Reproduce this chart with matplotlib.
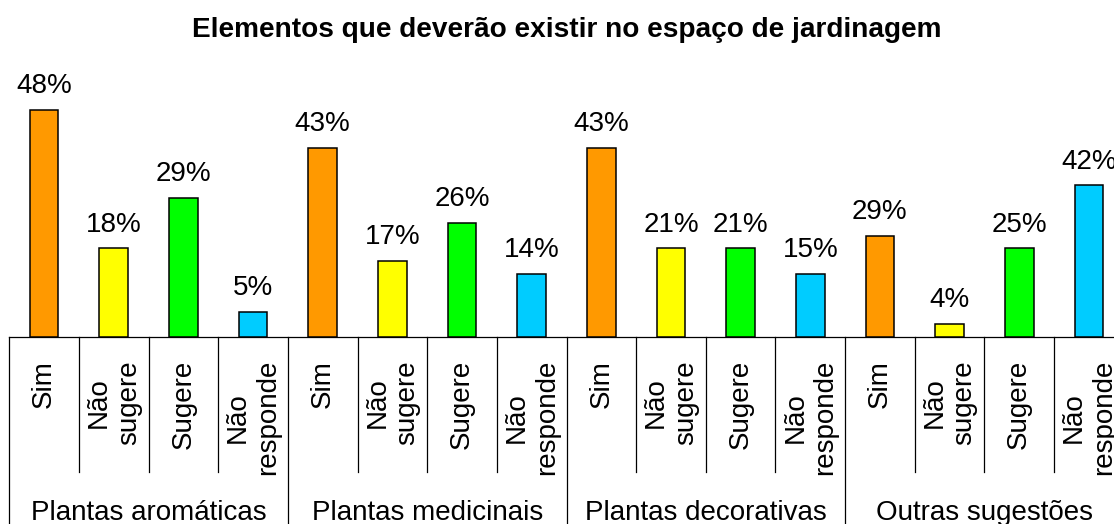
import numpy as np
import matplotlib
matplotlib.use("Agg")
import matplotlib.pyplot as plt

plt.rcParams["font.family"] = ["Liberation Sans", "DejaVu Sans"]

# data: bar heights are respondent counts, labels are shares within each group
groups = ["Plantas aromáticas", "Plantas medicinais", "Plantas decorativas", "Outras sugestões"]
answers = ["Sim", "Não\nsugere", "Sugere", "Não\nresponde"]
counts_aromaticas = [18, 7, 11, 2]
counts_medicinais = [15, 6, 9, 5]
counts_decorativas = [15, 7, 7, 5]
counts_outras = [8, 1, 7, 12]
pct_aromaticas = [48, 18, 29, 5]
pct_medicinais = [43, 17, 26, 14]
pct_decorativas = [43, 21, 21, 15]
pct_outras = [29, 4, 25, 42]
answer_colors = ["#FF9900", "#FFFF00", "#00FF00", "#00CCFF"]

counts = counts_aromaticas + counts_medicinais + counts_decorativas + counts_outras
pcts = pct_aromaticas + pct_medicinais + pct_decorativas + pct_outras
n_ans = len(answers)
x = np.arange(len(counts))

W, H = 1114, 524
fs = 20
fig = plt.figure(figsize=(W / 100, H / 100), dpi=100)
# plot area runs slightly past the right edge, as in the original
ax = fig.add_axes([9.3 / W, (H - 336.7) / H, 1114.4 / W, 252 / H])

ax.bar(x, counts, width=0.41, color=[answer_colors[i % n_ans] for i in x],
       edgecolor="black", linewidth=1.1, zorder=3)
ax.set_xlim(-0.5, len(counts) - 0.5)
ax.set_ylim(0, 20)

# value labels
for xi, c, p in zip(x, counts, pcts):
    ax.annotate(f"{p}%", (xi, c), xytext=(0, 12.2), textcoords="offset points",
                ha="center", va="baseline", fontsize=fs, annotation_clip=False)

tr = ax.get_xaxis_transform()
# answer labels (rotated)
for xi in x:
    ax.text(xi, -23.3 / 252, answers[xi % n_ans], rotation=90, ha="center", va="top",
            multialignment="center", fontsize=fs, transform=tr)

# group labels
for g, name in enumerate(groups):
    ax.text(g * n_ans + (n_ans - 1) / 2, -183.3 / 252, name, ha="center", va="baseline",
            fontsize=fs, transform=tr)

# category dividers
for k in range(len(counts) + 1):
    b = k - 0.5
    y_end = -0.8 if k % n_ans == 0 else -135 / 252
    ax.plot([b, b], [0, y_end], color="black", linewidth=0.9, transform=tr, clip_on=False)

for s in ["left", "top", "right"]:
    ax.spines[s].set_visible(False)
ax.spines["bottom"].set_color("black")
ax.spines["bottom"].set_linewidth(0.9)
ax.set_xticks([])
ax.set_yticks([])

fig.text(566.5 / W, 1 - 36.7 / H, "Elementos que deverão existir no espaço de jardinagem",
         ha="center", va="baseline", fontsize=20.2, fontweight="bold")

fig.savefig("out.png", dpi=100)
